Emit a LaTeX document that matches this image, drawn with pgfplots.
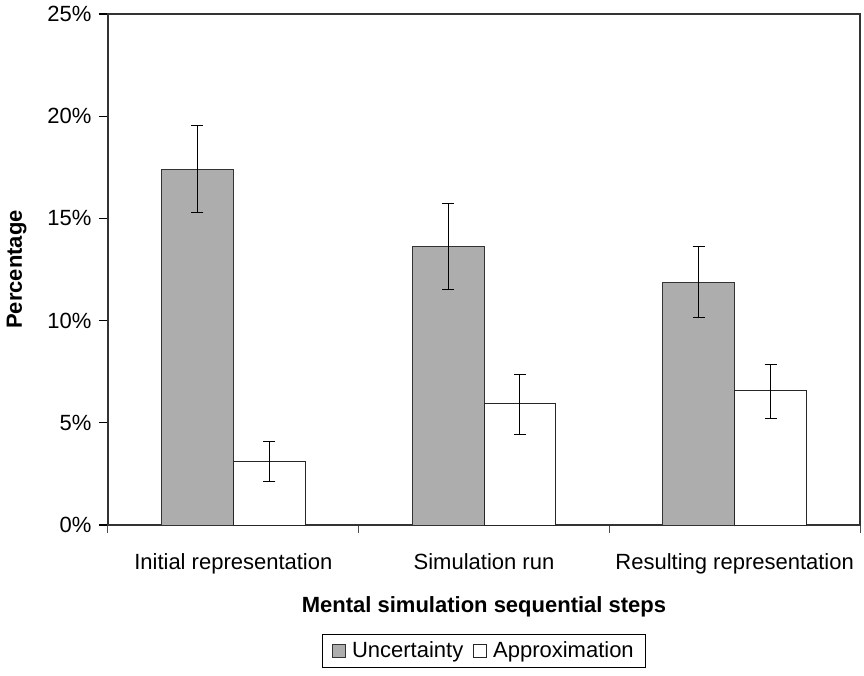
\documentclass[border=0pt]{standalone}
\usepackage{fontspec}
\setmainfont{Liberation Sans}
\usepackage{pgfplots}
\pgfplotsset{compat=1.18}
\definecolor{ugray}{HTML}{ADADAD}

\begin{document}
\fontsize{22}{26}\selectfont
\begin{tikzpicture}
  \useasboundingbox (-108pt,-150pt) rectangle (756pt,525pt);
  \begin{axis}[
    at={(0pt,0pt)}, anchor=south west,
    scale only axis, width=752pt, height=511pt,
    xmin=0.5, xmax=3.5, ymin=0, ymax=25,
    ybar=0pt, bar width=0.287,
    ytick={0,5,...,25},
    yticklabel={\pgfmathprintnumber{\tick}\%},
    /pgf/number format/assume math mode=true,
    xtick={1,2,3},
    xticklabels={Initial representation, Simulation run, Resulting representation},
    minor xtick={0.5,1.5,2.5,3.5},
    major x tick style={draw=none},
    minor x tick style={black!70, line width=1pt},
    major y tick style={black, line width=1.2pt},
    tick align=outside, xtick pos=bottom, ytick pos=left,
    major tick length=9pt, minor tick length=8pt,
    axis line style={black!80, line width=1.2pt},
    xticklabel shift=12pt,
    xlabel shift=8pt,
    ylabel shift=6pt,
    xlabel={\bfseries Mental simulation sequential steps},
    ylabel={\bfseries Percentage},
    legend style={at={(0.5,-0.213)}, anchor=north, draw=black, line width=1.2pt,
      legend columns=2, font=\fontsize{22}{26}\selectfont,
      inner xsep=10pt, inner ysep=5pt,
      /tikz/every odd column/.append style={column sep=4pt},
      /tikz/every even column/.append style={column sep=8pt}},
    legend image code/.code={\draw[#1, line width=0.8pt] (0pt,-6.5pt) rectangle (13pt,6.5pt);},
  ]
    % Uncertainty
    \addplot[fill=ugray, draw=black!80, line width=1pt,
      error bars/.cd, y dir=both, y explicit,
      error bar style={line width=1pt, black},
      error mark options={rotate=90, mark size=6pt, line width=1pt, black}]
      coordinates {
        (1,17.40) += (0,2.15) -= (0,2.10)
        (2,13.63) += (0,2.12) -= (0,2.10)
        (3,11.87) += (0,1.76) -= (0,1.73)
      };
    % Approximation
    \addplot[fill=white, draw=black!85, line width=1pt,
      error bars/.cd, y dir=both, y explicit,
      error bar style={line width=1pt, black},
      error mark options={rotate=90, mark size=6pt, line width=1pt, black}]
      coordinates {
        (1,3.13) += (0,0.97) -= (0,0.99)
        (2,5.92) += (0,1.45) -= (0,1.47)
        (3,6.56) += (0,1.27) -= (0,1.34)
      };
    \legend{Uncertainty, Approximation}
  \end{axis}
\end{tikzpicture}
\end{document}
